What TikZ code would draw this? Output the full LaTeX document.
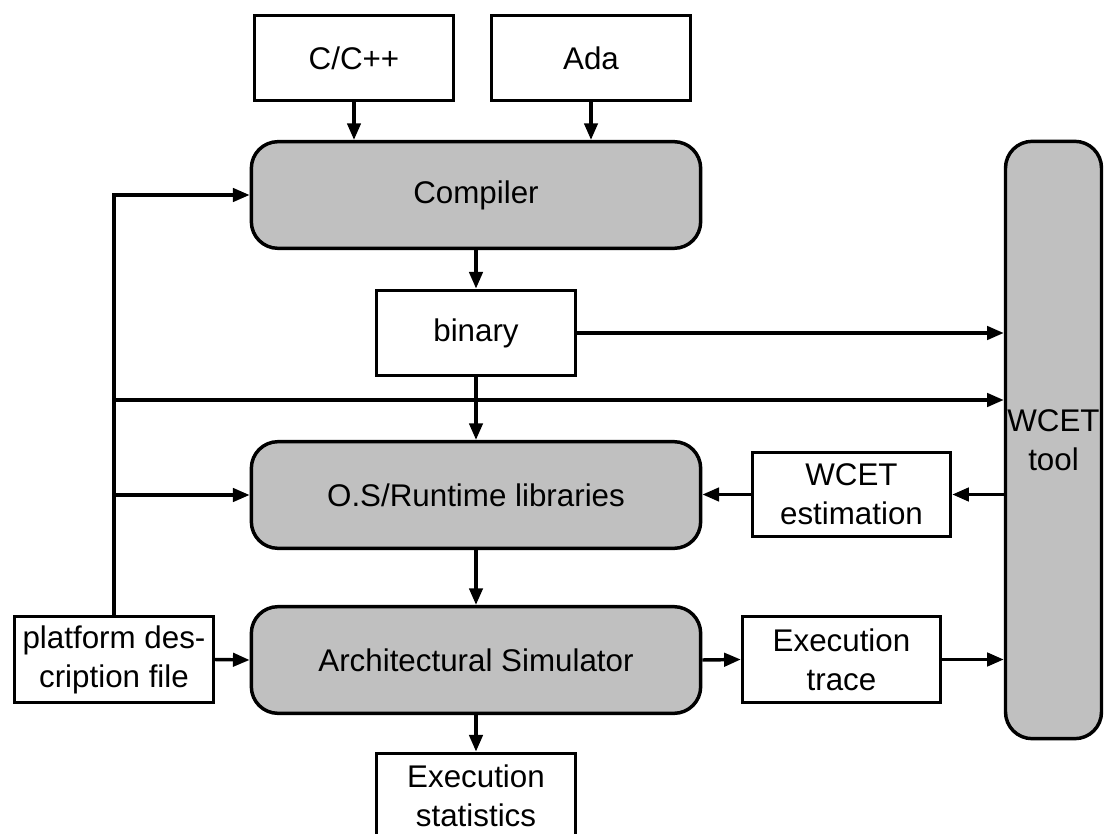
\documentclass[tikz,border=0pt]{standalone}
\usepackage{fontspec}
\setmainfont{Liberation Sans}
\usetikzlibrary{arrows.meta,calc}
\definecolor{boxgray}{HTML}{C0C0C0}
\tikzset{
  every node/.style={font=\fontsize{23.5}{29.3}\selectfont, align=center, inner sep=0pt},
  plainbox/.style={draw, line width=2.6pt, fill=white, rectangle},
  stagebox/.style={draw, line width=2.6pt, fill=boxgray, rectangle, rounded corners=20pt},
  flow/.style={line width=2.6pt, -{Triangle[length=12.5pt,width=10pt]}},
  wire/.style={line width=2.6pt}
}
\begin{document}
\begin{tikzpicture}[x=0.75pt, y=-0.75pt]
  \clip (0,0) rectangle (1107,834);
  \fill[white] (0,0) rectangle (1107,834);

  % source languages
  \node[plainbox, minimum width=149pt, minimum height=64pt] (cpp) at (354,58) {C/C++};
  \node[plainbox, minimum width=149pt, minimum height=64pt] (ada) at (591,58) {Ada};

  % main tool chain
  \node[stagebox, minimum width=337pt, minimum height=80pt] (compiler) at (476,195) {Compiler};
  \node[plainbox, minimum width=149pt, minimum height=64pt] (binary) at (476,333) {binary};
  \node[stagebox, minimum width=337pt, minimum height=80pt] (osrt) at (476,495) {O.S/Runtime libraries};
  \node[stagebox, minimum width=337pt, minimum height=80pt] (archsim) at (476,660) {Architectural Simulator};
  \node[plainbox, minimum width=149pt, minimum height=64pt] (stats) at (476,796) {Execution\\statistics};

  % platform description
  \node[plainbox, minimum width=149pt, minimum height=64.5pt] (platform) at (114,659.5) {platform des-\\cription file};

  % timing analysis side
  \node[stagebox, minimum width=72pt, minimum height=448pt] (wcet) at (1053.5,440) {WCET\\tool};
  \node[plainbox, minimum width=148.5pt, minimum height=63pt] (estim) at (851.5,494.5) {WCET\\estimation};
  \node[plainbox, minimum width=148.5pt, minimum height=64.5pt] (trace) at (841.5,659.5) {Execution\\trace};

  % vertical flow
  \draw[flow] (cpp.south) -- (cpp.south |- compiler.north);
  \draw[flow] (ada.south) -- (ada.south |- compiler.north);
  \draw[flow] (compiler.south) -- (binary.north);
  \draw[flow] (binary.south) -- (osrt.north);
  \draw[flow] (osrt.south) -- (archsim.north);
  \draw[flow] (archsim.south) -- (stats.north);

  % platform description distribution bus
  \coordinate (bus) at (platform.north |- 0,400);
  \draw[flow] (platform.north) |- (compiler.west);
  \draw[flow] (bus) -- (bus -| wcet.west);
  \draw[flow] (platform.north |- osrt.west) -- (osrt.west);
  \draw[flow] (platform.east) -- (archsim.west);

  % links to and from the WCET tool
  \draw[flow] (binary.east) -- (binary.east -| wcet.west);
  \draw[flow] (estim.east -| wcet.west) -- (estim.east);
  \draw[flow] (estim.west) -- (osrt.east |- estim.west);
  \draw[flow] (archsim.east) -- (trace.west);
  \draw[flow] (trace.east) -- (trace.east -| wcet.west);
\end{tikzpicture}
\end{document}
